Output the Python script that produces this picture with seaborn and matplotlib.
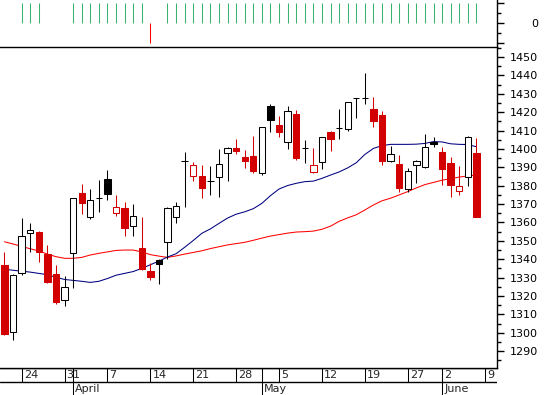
import numpy as np
import pandas as pd
import matplotlib
matplotlib.use('Agg')
import matplotlib.pyplot as plt
import seaborn as sns

# daily bars (19 Mar - 6 Jun)
opens = [1336.8, 1300.6, 1332.3, 1354.1, 1354.8, 1342.8, 1331.9, 1317.6, 1343.2, 1375.8,
         1362.8, 1373.1, 1383.6, 1364.9, 1367.8, 1357.9, 1346.1, 1333.6, 1339.5, 1349.2,
         1362.8, 1393.6, 1385.4, 1385.2, 1382.7, 1384.5, 1397.6, 1400.7, 1395.6, 1396.1,
         1387.1, 1423.3, 1413.0, 1403.6, 1419.0, 1400.3, 1387.6, 1392.7, 1409.2, 1411.2,
         1410.6, 1427.5, 1427.9, 1421.5, 1418.4, 1393.2, 1391.8, 1378.0, 1391.1, 1390.0,
         1403.9, 1398.3, 1392.1, 1376.9, 1384.9, 1397.6]
highs = [1344.1, 1332.0, 1362.4, 1359.7, 1355.2, 1347.7, 1336.8, 1330.7, 1373.5, 1380.9,
         1378.2, 1383.1, 1388.5, 1374.9, 1371.1, 1370.0, 1362.9, 1337.7, 1340.0, 1368.2,
         1371.1, 1398.1, 1392.7, 1391.2, 1390.7, 1400.1, 1400.8, 1405.4, 1399.4, 1407.0,
         1412.2, 1424.4, 1417.9, 1423.3, 1421.2, 1404.8, 1400.5, 1406.7, 1409.6, 1421.5,
         1425.6, 1427.8, 1441.1, 1428.0, 1420.6, 1401.6, 1396.7, 1389.6, 1394.0, 1408.1,
         1406.3, 1401.0, 1395.8, 1390.7, 1407.0, 1405.9]
lows = [1299.0, 1296.0, 1331.5, 1343.7, 1338.6, 1327.2, 1315.8, 1314.7, 1324.5, 1364.8,
        1362.0, 1365.8, 1372.4, 1363.7, 1352.8, 1352.8, 1334.2, 1328.8, 1326.3, 1340.1,
        1359.9, 1368.6, 1382.7, 1373.1, 1374.9, 1374.0, 1382.7, 1397.0, 1389.8, 1387.1,
        1386.0, 1409.4, 1406.6, 1399.9, 1393.9, 1392.5, 1387.1, 1389.2, 1399.0, 1405.6,
        1409.5, 1416.6, 1424.2, 1412.1, 1391.4, 1392.8, 1376.7, 1376.7, 1381.6, 1389.5,
        1400.8, 1380.5, 1373.6, 1375.1, 1379.8, 1362.8]
closes = [1299.3, 1331.2, 1352.6, 1355.7, 1343.7, 1327.8, 1316.9, 1324.7, 1373.1, 1370.7,
          1372.0, 1373.1, 1375.6, 1368.2, 1357.1, 1363.5, 1334.7, 1330.5, 1337.2, 1367.7,
          1368.9, 1393.6, 1391.1, 1378.9, 1382.7, 1391.6, 1400.3, 1399.0, 1393.6, 1388.1,
          1411.7, 1415.9, 1409.4, 1420.4, 1395.2, 1400.3, 1391.1, 1406.3, 1405.6, 1411.2,
          1425.3, 1427.5, 1427.9, 1415.4, 1393.6, 1397.0, 1378.9, 1387.8, 1393.4, 1400.8,
          1402.7, 1388.9, 1380.5, 1379.8, 1406.6, 1363.1]

# moving averages
ma_fast = [1334.6, 1334.0, 1333.5, 1333.0, 1332.3, 1331.6, 1330.2, 1329.0, 1328.5, 1328.0,
           1327.4, 1328.0, 1329.5, 1331.3, 1332.3, 1333.3, 1335.0, 1337.0, 1339.0, 1341.2,
           1343.0, 1346.5, 1350.2, 1354.1, 1356.5, 1359.5, 1362.4, 1364.5, 1365.8, 1367.5,
           1370.4, 1374.6, 1378.2, 1380.1, 1381.3, 1382.2, 1382.5, 1384.0, 1385.8, 1387.5,
           1389.7, 1392.5, 1397.0, 1400.3, 1401.8, 1402.5, 1402.5, 1402.5, 1402.6, 1403.0,
           1404.0, 1403.8, 1402.8, 1402.5, 1402.4, 1401.2]
ma_slow = [1349.5, 1348.3, 1347.0, 1345.7, 1344.5, 1342.8, 1341.4, 1340.5, 1340.5, 1341.0,
           1342.3, 1343.2, 1344.0, 1344.8, 1345.0, 1345.0, 1344.0, 1342.5, 1341.7, 1341.0,
           1341.8, 1342.8, 1343.7, 1344.6, 1345.8, 1346.8, 1347.8, 1348.5, 1349.2, 1350.3,
           1351.5, 1352.6, 1353.4, 1354.2, 1354.8, 1355.0, 1355.3, 1356.3, 1358.0, 1360.6,
           1362.5, 1364.2, 1366.8, 1369.5, 1371.8, 1373.2, 1375.0, 1376.8, 1378.8, 1380.6,
           1381.8, 1383.0, 1383.8, 1384.7, 1385.3, 1385.8]

# top indicator panel (+1 / 0 / -1)
signal = [0, 0, 1, 1, 1, 0, 0, 0, 1, 1,
          1, 1, 1, 1, 1, 1, 1, -1, 0, 1,
          1, 1, 1, 1, 1, 1, 1, 1, 1, 1,
          1, 1, 1, 1, 1, 1, 1, 1, 1, 1,
          1, 1, 1, 1, 1, 1, 1, 1, 1, 1,
          1, 1, 1, 1, 1, 1]

day_ticks = [2, 7, 12, 17, 22, 27, 32, 37, 42, 47, 51, 56]
day_labels = ['24', '31', '7', '14', '21', '28', '5', '12', '19', '27', '2', '9']
month_ticks = [8, 30, 51]
month_labels = ['April', 'May', 'June']

df = pd.DataFrame({'open': opens, 'high': highs, 'low': lows, 'close': closes,
                   'ma_fast': ma_fast, 'ma_slow': ma_slow, 'signal': signal})
df['idx'] = np.arange(len(df))
# red when the close is below the previous close
prev = df['close'].shift(1).fillna(df['open'])
df['colour'] = np.where(df['close'] < prev, '#d20000', 'black')

sns.set_style('white')
plt.rcParams['font.family'] = ['DejaVu Sans']
plt.rcParams['font.size'] = 8

W, H = 544, 395
lw = 0.75      # thin marks
lw_ax = 1.0    # frame lines
fig = plt.figure(figsize=(W / 100, H / 100), dpi=100)
right = 497 / W
ax_top = fig.add_axes([0, 1 - 47.3 / H, right, 47.3 / H])
ax = fig.add_axes([0, 27.5 / H, right, (367.5 - 47.3) / H])
ax_date = fig.add_axes([0, 0, right, 27.5 / H])
# keep the panel divider from being painted over
ax.patch.set_visible(False)
ax_top.set_zorder(2)

xlim = (-0.52, 57.4)

# indicator
up = df[df['signal'] > 0]
dn = df[df['signal'] < 0]
ax_top.vlines(up['idx'], 0, up['signal'], color='#3cb371', linewidth=lw)
ax_top.vlines(dn['idx'], 0, dn['signal'], color='#ff0000', linewidth=lw)
ax_top.set_xlim(*xlim)
ax_top.set_ylim(-1.2, 1.165)

# moving averages
sns.lineplot(data=df, x='idx', y='ma_slow', ax=ax, color='#ff0000', linewidth=lw, zorder=1)
sns.lineplot(data=df, x='idx', y='ma_fast', ax=ax, color='#000080', linewidth=lw, zorder=1)

# candles
ax.vlines(df['idx'], df['low'], df['high'], color=df['colour'], linewidth=lw, zorder=2)
body_lo = df[['open', 'close']].min(axis=1)
body_h = (df['close'] - df['open']).abs()
face = [c if cl < op else 'white' for c, op, cl in zip(df['colour'], df['open'], df['close'])]
ax.bar(df['idx'], body_h, bottom=body_lo, width=0.74, color=face,
       edgecolor=df['colour'], linewidth=lw, zorder=3)

ax.set_xlim(*xlim)
ax.set_ylim(1281.1, 1455.3)
ax.set_xlabel('')
ax.set_ylabel('')

for a in (ax_top, ax):
    for s in ('left', 'top'):
        a.spines[s].set_visible(False)
    for s in ('right', 'bottom'):
        a.spines[s].set_visible(True)
        a.spines[s].set_color('black')
        a.spines[s].set_linewidth(lw_ax)
    a.yaxis.tick_right()
    a.set_xticks([])
    a.tick_params(axis='y', which='major', length=5, width=lw_ax, color='black',
                  pad=24.5, labelsize=8, labelcolor='black', right=True, left=False)
    a.tick_params(axis='y', which='minor', length=2.6, width=lw_ax, color='black',
                  right=True, left=False)

ax.set_yticks(np.arange(1290, 1451, 10))
ax.set_yticks(np.arange(1285, 1456, 5), minor=True)
plt.setp(ax.get_yticklabels(), ha='right')

ax_top.set_yticks([-1, 0, 1])
ax_top.set_yticklabels(['', '0', ''])
ax_top.set_yticks([-0.5, 0.5], minor=True)
plt.setp(ax_top.get_yticklabels(), ha='right')

# date band
ax_date.set_xlim(*xlim)
ax_date.set_ylim(0, 1)
ax_date.axis('off')
ax_date.axhline(0.995, color='black', linewidth=lw_ax)
ax_date.axhline(0.473, color='black', linewidth=lw_ax)
ax_date.vlines(day_ticks, 0.473, 1.0, color='black', linewidth=lw)
ax_date.vlines(month_ticks, 0, 1.0, color='black', linewidth=lw)
for x, lab in zip(day_ticks, day_labels):
    ax_date.annotate(lab, (x, 0.73), xytext=(1.5, 0), textcoords='offset points',
                     ha='left', va='center', fontsize=8)
for x, lab in zip(month_ticks, month_labels):
    ax_date.annotate(lab, (x, 0.22), xytext=(1.5, 0), textcoords='offset points',
                     ha='left', va='center', fontsize=8)

fig.savefig('out.png', dpi=100)
